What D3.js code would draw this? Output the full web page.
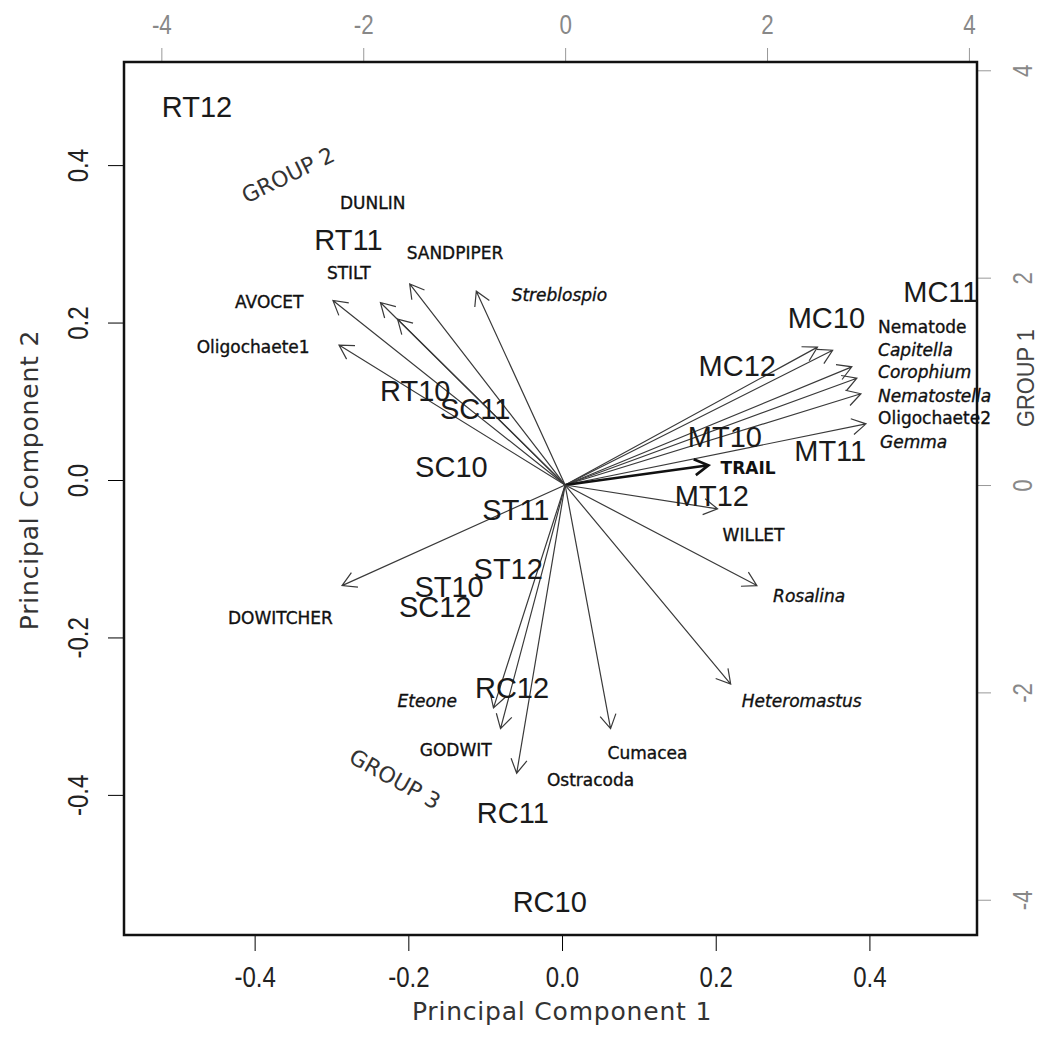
<!DOCTYPE html>
<html><head><meta charset="utf-8">
<script src="https://cdn.jsdelivr.net/npm/d3@7"></script>
<style>body{margin:0;background:#fff}svg{display:block}</style>
</head><body>
<svg id="c" width="1042" height="1042"></svg>
<script>
// ---- data ----
const sampleNames = ["RT12","RT11","RT10","SC11","SC10","ST11","ST12","ST10","SC12","RC12","RC11","RC10","MC11","MC10","MC12","MT10","MT11","MT12"];
const pc1Scores = [-0.475,-0.278,-0.191,-0.113,-0.144,-0.060,-0.070,-0.147,-0.165,-0.065,-0.064,-0.016,0.493,0.344,0.228,0.212,0.349,0.195];
const pc2Scores = [0.475,0.305,0.114,0.091,0.017,-0.038,-0.112,-0.136,-0.161,-0.264,-0.422,-0.536,0.239,0.206,0.145,0.055,0.038,-0.020];

const varNames = ["AVOCET","Oligochaete1","STILT","DUNLIN","SANDPIPER","Streblospio","Nematode","Capitella","Corophium","Nematostella","Oligochaete2","Gemma","TRAIL","WILLET","Rosalina","Heteromastus","Cumacea","Ostracoda","GODWIT","Eteone","DOWITCHER"];
const pc1Loadings = [-2.30,-2.24,-1.83,-1.66,-1.54,-0.88,2.50,2.65,2.84,2.89,2.93,2.98,1.42,1.51,1.90,1.64,0.45,-0.48,-0.64,-0.71,-2.21];
const pc2Loadings = [1.78,1.35,1.76,1.60,1.94,1.87,1.33,1.30,1.14,1.03,0.88,0.59,0.19,-0.23,-0.97,-1.92,-2.35,-2.78,-2.35,-2.15,-0.97];
const varItalic = [false,false,false,false,false,true,false,true,true,true,false,true,false,false,true,true,false,false,false,true,false];
// label anchor (left edge) in loading units
const labelX = [-3.27,-3.65,-2.36,-2.23,-1.57,-0.53,3.10,3.10,3.10,3.10,3.10,3.12,1.54,1.56,2.06,1.75,0.42,-0.18,-1.44,-1.66,-3.34];
const labelY = [1.77,1.33,2.05,2.72,2.24,1.83,1.53,1.30,1.09,0.86,0.65,0.42,0.17,-0.48,-1.07,-2.08,-2.58,-2.84,-2.55,-2.08,-1.28];

const scoreTicks = [-0.4,-0.2,0.0,0.2,0.4];
const loadingTicks = [-4,-2,0,2,4];
const groupLabels = ["GROUP 1","GROUP 2","GROUP 3"];

// ---- layout ----
const L=124, R=977, T=62, B=935;
const svg = d3.select("#c");
const x = d3.scaleLinear().domain([-0.57,0.54]).range([L,R]);
const y = d3.scaleLinear().domain([-0.578,0.531]).range([B,T]);
const xl = d3.scaleLinear().domain([-4.37,4.08]).range([L,R]);
const yl = d3.scaleLinear().domain([-4.34,4.08]).range([B,T]);

const sans = "'Liberation Sans',Arial,sans-serif";
const tfmt = d => d.toFixed(1);
const ifmt = d => String(d);

// axes
const axB = svg.append("g").attr("transform",`translate(0,${B})`)
  .call(d3.axisBottom(x).tickValues(scoreTicks).tickSize(16).tickFormat(tfmt));
axB.selectAll("text").attr("font-family",sans).attr("font-size",30).attr("fill","#222")
  .attr("y",0).attr("dy","0").attr("transform","translate(0,52) scale(0.8,1)");
const axL = svg.append("g").attr("transform",`translate(${L},0)`)
  .call(d3.axisLeft(y).tickValues(scoreTicks).tickSize(16).tickFormat(tfmt));
axL.selectAll("text").attr("font-family",sans).attr("font-size",30).attr("fill","#222")
  .attr("text-anchor","middle").attr("x",0).attr("y",0).attr("dy","0")
  .attr("transform","translate(-36,0) rotate(-90) scale(0.8,1)");
const axT = svg.append("g").attr("transform",`translate(0,${T})`)
  .call(d3.axisTop(xl).tickValues(loadingTicks).tickSize(14).tickFormat(ifmt));
axT.selectAll("text").attr("font-family",sans).attr("font-size",28).attr("fill","#888")
  .attr("y",0).attr("dy","0").attr("transform","translate(0,-28) scale(0.8,1)");
axT.selectAll("line").attr("stroke","#999");
const axR = svg.append("g").attr("transform",`translate(${R},0)`)
  .call(d3.axisRight(yl).tickValues(loadingTicks).tickSize(14).tickFormat(ifmt));
axR.selectAll("text").attr("font-family",sans).attr("font-size",28).attr("fill","#888")
  .attr("text-anchor","middle").attr("x",0).attr("y",0).attr("dy","0")
  .attr("transform","translate(55,0) rotate(-90) scale(0.8,1)");
axR.selectAll("line").attr("stroke","#999");
svg.selectAll(".domain").remove();

// box
svg.append("rect").attr("x",L).attr("y",T).attr("width",R-L).attr("height",B-T)
  .attr("fill","none").attr("stroke","#111").attr("stroke-width",2.5);

// axis titles
const dv = "'DejaVu Sans',Verdana,sans-serif";
svg.append("text").attr("x",x(0)).attr("y",1020).attr("text-anchor","middle")
  .attr("font-family",dv).attr("font-size",25).attr("letter-spacing",0.8).attr("fill","#333").text("Principal Component 1");
svg.append("text").attr("transform",`translate(38,${y(0)}) rotate(-90)`).attr("text-anchor","middle")
  .attr("font-family",dv).attr("font-size",25).attr("letter-spacing",0.8).attr("fill","#333").text("Principal Component 2");

// arrows
const ox = xl(0), oy = yl(0);
const arrows = svg.append("g");
varNames.forEach((n,i)=>{
  const tx = xl(pc1Loadings[i]), ty = yl(pc2Loadings[i]);
  const thick = n==="TRAIL";
  const ang = Math.atan2(ty-oy, tx-ox);
  const hl = 16, ha = Math.PI/6;
  const p = d3.path();
  p.moveTo(ox,oy); p.lineTo(tx,ty);
  p.moveTo(tx - hl*Math.cos(ang-ha), ty - hl*Math.sin(ang-ha));
  p.lineTo(tx,ty);
  p.lineTo(tx - hl*Math.cos(ang+ha), ty - hl*Math.sin(ang+ha));
  arrows.append("path").attr("d",p.toString()).attr("fill","none")
    .attr("stroke", thick ? "#111" : "#3a3a3a").attr("stroke-width", thick ? 2.6 : 1.2);
});

// variable labels
varNames.forEach((n,i)=>{
  svg.append("text").attr("x",xl(labelX[i])).attr("y",yl(labelY[i])).attr("dy","0.36em")
    .attr("font-family",dv).attr("font-size",17).attr("fill","#111")
    .attr("stroke","#111").attr("stroke-width", n==="TRAIL" ? 0 : 0.35)
    .attr("font-style",varItalic[i]?"italic":"normal")
    .attr("font-weight", n==="TRAIL" ? "bold" : "normal")
    .text(n);
});

// sample labels
sampleNames.forEach((n,i)=>{
  svg.append("text").attr("x",x(pc1Scores[i])).attr("y",y(pc2Scores[i])).attr("dy","0.36em")
    .attr("text-anchor","middle").attr("font-family",sans)
    .attr("font-size",29).attr("fill","#1a1a1a").text(n);
});

// group labels
svg.append("text").attr("transform","translate(1026,378) rotate(-90) scale(0.95,1)").attr("text-anchor","middle")
  .attr("dy","0.35em").attr("font-family",sans).attr("font-size",23).attr("fill","#444").text(groupLabels[0]);
svg.append("text").attr("transform","translate(288,175) rotate(-26)").attr("text-anchor","middle")
  .attr("dy","0.35em").attr("font-family",dv).attr("font-size",22).attr("fill","#333").text(groupLabels[1]);
svg.append("text").attr("transform","translate(395,779) rotate(29)").attr("text-anchor","middle")
  .attr("dy","0.35em").attr("font-family",dv).attr("font-size",22).attr("fill","#333").text(groupLabels[2]);
</script>
</body></html>
